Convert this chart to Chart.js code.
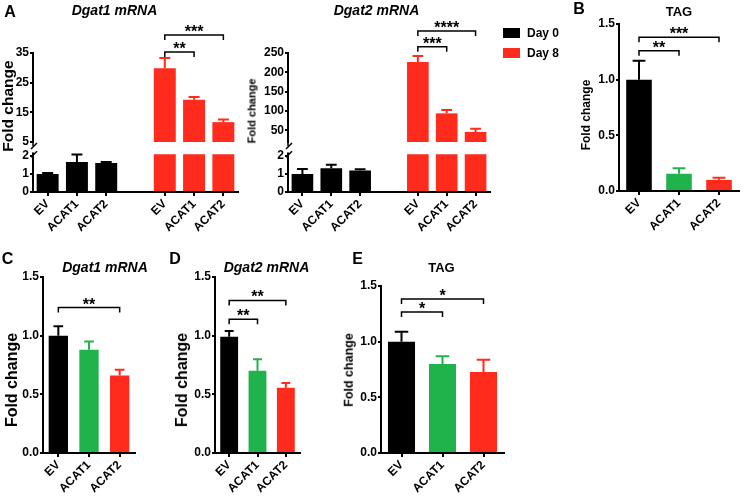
<!DOCTYPE html>
<html>
<head>
<meta charset="utf-8">
<script src="https://cdn.jsdelivr.net/npm/chart.js@4.4.1/dist/chart.umd.min.js"></script>
<style>
  body { margin: 0; width: 745px; height: 499px; background: #fff; position: relative; overflow: hidden;
         font-family: "Liberation Sans", Arial, sans-serif; }
  canvas { position: absolute; }
  .t { position: absolute; transform: translate(-50%, -50%); white-space: nowrap; font-weight: bold; color: #000; line-height: 1; }
  .v { transform: translate(-50%, -50%) rotate(-90deg); }
  .it { font-style: italic; }
  .sw { position: absolute; width: 17px; height: 10px; }
</style>
</head>
<body>
<script>
// ---- data ----
const groups = ['EV', 'ACAT1', 'ACAT2'];
const seriesNames = ['Day 0', 'Day 8'];

const dgat1Day0 = [1.0, 1.67, 1.61];
const dgat1Day0Err = [0.06, 0.41, 0.06];
const dgat1Day8 = [29.9, 19.2, 11.7];
const dgat1Day8Err = [3.4, 1.0, 0.9];

const dgat2Day0 = [1.0, 1.32, 1.2];
const dgat2Day0Err = [0.28, 0.2, 0.07];
const dgat2Day8 = [227, 94, 46];
const dgat2Day8Err = [15, 9, 8];

const tagB = [1.0, 0.155, 0.1];
const tagBErr = [0.17, 0.05, 0.02];
const dgat1C = [1.0, 0.88, 0.66];
const dgat1CErr = [0.08, 0.07, 0.05];
const dgat2D = [0.99, 0.70, 0.556];
const dgat2DErr = [0.05, 0.10, 0.04];
const tagE = [1.0, 0.80, 0.727];
const tagEErr = [0.09, 0.07, 0.11];

// significance: [from group, to group, height (y units), label]
const dgat1Sig = [[0, 1, 35.3, '**'], [0, 2, 41.1, '***']];
const dgat2Sig = [[0, 1, 266, '***'], [0, 2, 307, '****']];
const tagBSig = [[0, 1, 1.26, '**'], [0, 2, 1.38, '***']];
const dgat1CSig = [[0, 2, 1.24, '**']];
const dgat2DSig = [[0, 1, 1.14, '**'], [0, 2, 1.30, '**']];
const tagESig = [[0, 1, 1.267, '*'], [0, 2, 1.384, '*']];

const BLACK = '#000000', RED = '#ff2b1c', GREEN = '#20b24b';
const seriesColors = [BLACK, RED];
const FONT = '"Liberation Sans", Arial, sans-serif';

// ---- plugins ----
const errorBars = {
  id: 'errorBars',
  afterDatasetsDraw(chart) {
    const { ctx, chartArea: a } = chart;
    ctx.save();
    ctx.beginPath();
    ctx.rect(a.left, a.top - 4, a.right - a.left, a.bottom - a.top + 4);
    ctx.clip();
    chart.data.datasets.forEach((ds, di) => {
      chart.getDatasetMeta(di).data.forEach((bar, i) => {
        const v = ds.data[i], e = ds.errors[i];
        if (v == null || e == null) return;
        const y1 = chart.scales.y.getPixelForValue(v + e);
        const w = bar.width / 4;
        ctx.strokeStyle = ds.backgroundColor[i];
        ctx.lineWidth = 2;
        ctx.beginPath();
        ctx.moveTo(bar.x, bar.y); ctx.lineTo(bar.x, y1);
        ctx.moveTo(bar.x - w, y1); ctx.lineTo(bar.x + w, y1);
        ctx.stroke();
      });
    });
    ctx.restore();
  }
};

const sigBrackets = {
  id: 'sigBrackets',
  afterDraw(chart, args, opts) {
    const items = opts.items || [];
    const { ctx } = chart, xs = chart.scales.x, ys = chart.scales.y;
    ctx.save();
    ctx.strokeStyle = '#000'; ctx.fillStyle = '#000'; ctx.lineWidth = 1.5;
    ctx.font = 'bold 16px ' + FONT;
    ctx.textAlign = 'center'; ctx.textBaseline = 'alphabetic';
    items.forEach(([a, b, v, txt]) => {
      const x1 = xs.getPixelForValue(a), x2 = xs.getPixelForValue(b), y = ys.getPixelForValue(v);
      ctx.beginPath();
      ctx.moveTo(x1, y + 5); ctx.lineTo(x1, y); ctx.lineTo(x2, y); ctx.lineTo(x2, y + 5);
      ctx.stroke();
      ctx.fillText(txt, (x1 + x2) / 2, y + 2);
    });
    ctx.restore();
  }
};

const axisBreak = {
  id: 'axisBreak',
  afterDraw(chart, args, opts) {
    if (!opts.side) return;
    const { ctx, chartArea: a } = chart;
    const x = a.left;
    ctx.save();
    ctx.strokeStyle = '#000'; ctx.lineWidth = 1.5;
    ctx.beginPath();
    if (opts.side === 'bottom') {
      ctx.moveTo(x, a.bottom); ctx.lineTo(x, a.bottom + 4);
      ctx.moveTo(x - 2, a.bottom + 7); ctx.lineTo(x + 4, a.bottom + 1);
    } else {
      ctx.moveTo(x, a.top); ctx.lineTo(x, a.top - 2);
      ctx.moveTo(x - 2, a.top + 3); ctx.lineTo(x + 4, a.top - 3);
    }
    ctx.stroke();
    ctx.restore();
  }
};

// ---- helpers ----
function addText(txt, x, y, size, cls) {
  const d = document.createElement('div');
  d.className = 't' + (cls ? ' ' + cls : '');
  d.textContent = txt;
  d.style.left = x + 'px'; d.style.top = y + 'px'; d.style.fontSize = size + 'px';
  document.body.appendChild(d);
}

// box: chart area in page pixels
function barChart(box, labels, values, colors, errors, y, opt) {
  const wy = 45, pr = 6;
  const showX = !!opt.showX;
  const xh = showX ? 48 : 0;
  const left = box.L - wy;
  const top = Math.floor(box.T - (opt.pt || 20));
  const pt = box.T - top;
  const width = Math.ceil(box.R + pr - left);
  const height = Math.ceil(box.B + xh + (showX ? 0 : 10) - top);
  const pb = height - xh - (box.B - top);
  const cv = document.createElement('canvas');
  cv.width = width; cv.height = height;
  cv.style.left = left + 'px'; cv.style.top = top + 'px';
  cv.style.width = width + 'px'; cv.style.height = height + 'px';
  document.body.appendChild(cv);
  const tickFont = { family: FONT, weight: 'bold', size: 12 };
  return new Chart(cv, {
    type: 'bar',
    data: {
      labels: labels,
      datasets: [{ data: values, backgroundColor: colors, errors: errors,
                   barPercentage: opt.bar, categoryPercentage: 1, borderWidth: 0 }]
    },
    options: {
      responsive: false,
      animation: false,
      layout: { padding: { top: pt, right: box.R + pr - left - width + (width - (box.R - left)), bottom: pb, left: 0 } },
      plugins: {
        legend: { display: false },
        tooltip: { enabled: false },
        sigBrackets: { items: opt.sig || [] },
        axisBreak: { side: opt.breakSide || null }
      },
      scales: {
        x: {
          display: showX,
          offset: true,
          grid: { display: true, offset: false, drawOnChartArea: false, tickLength: 4, lineWidth: 2,
                  color: c => labels[c.index] ? '#000' : 'rgba(0,0,0,0)' },
          border: { display: true, color: '#000', width: 2 },
          ticks: { color: '#000', font: tickFont, minRotation: 45, maxRotation: 45, autoSkip: false, padding: 1 },
          afterFit(s) { s.height = xh; }
        },
        y: {
          min: y.min, max: y.max,
          grid: { drawOnChartArea: false, tickLength: 3, lineWidth: 2, color: '#000' },
          border: { color: '#000', width: 2 },
          ticks: { color: '#000', font: tickFont, padding: 1, stepSize: y.step, includeBounds: false,
                   callback: v => v.toFixed(y.dec) },
          afterFit(s) { s.width = wy; }
        }
      }
    },
    plugins: [errorBars, sigBrackets, axisBreak]
  });
}

function twoGroup(day0, day8) { return [...day0, null, ...day8]; }
const twoLabels = [...groups, '', ...groups];
const twoColors = [BLACK, BLACK, BLACK, 'rgba(0,0,0,0)', RED, RED, RED];
const triColors = [BLACK, GREEN, RED];
const shift = (sig, k) => sig.map(([a, b, v, t]) => [a + k, b + k, v, t]);

// ---- panel A: Dgat1 (broken axis) ----
const a1v = twoGroup(dgat1Day0, dgat1Day8), a1e = twoGroup(dgat1Day0Err, dgat1Day8Err);
barChart({ L: 33, R: 238, T: 53, B: 142 }, twoLabels, a1v, twoColors, a1e,
  { min: 5, max: 35, step: 10, dec: 0 }, { bar: 0.75, pt: 40, sig: shift(dgat1Sig, 4), breakSide: 'bottom' });
barChart({ L: 33, R: 238, T: 154.2, B: 192 }, twoLabels, a1v, twoColors, a1e,
  { min: 0, max: 2.1, step: 1, dec: 0 }, { bar: 0.75, pt: 9, showX: true, breakSide: 'top' });

// ---- panel A: Dgat2 (broken axis) ----
const a2v = twoGroup(dgat2Day0, dgat2Day8), a2e = twoGroup(dgat2Day0Err, dgat2Day8Err);
barChart({ L: 288, R: 490, T: 53, B: 142 }, twoLabels, a2v, twoColors, a2e,
  { min: 20, max: 250, step: 50, dec: 0 }, { bar: 0.75, pt: 40, sig: shift(dgat2Sig, 4), breakSide: 'bottom' });
barChart({ L: 288, R: 490, T: 154.2, B: 192 }, twoLabels, a2v, twoColors, a2e,
  { min: 0, max: 2.1, step: 1, dec: 0 }, { bar: 0.75, pt: 9, showX: true, breakSide: 'top' });

// ---- panels B to E ----
const unitY = { min: 0, max: 1.5, step: 0.5, dec: 1 };
barChart({ L: 619, R: 739, T: 24, B: 191 }, groups, tagB, triColors, tagBErr, unitY, { bar: 0.64, pt: 20, showX: true, sig: tagBSig });
barChart({ L: 43, R: 135, T: 277, B: 453 }, groups, dgat1C, triColors, dgat1CErr, unitY, { bar: 0.63, pt: 20, showX: true, sig: dgat1CSig });
barChart({ L: 215, R: 300, T: 277, B: 453 }, groups, dgat2D, triColors, dgat2DErr, unitY, { bar: 0.63, pt: 20, showX: true, sig: dgat2DSig });
barChart({ L: 381, R: 504, T: 286, B: 453 }, groups, tagE, triColors, tagEErr, unitY, { bar: 0.66, pt: 20, showX: true, sig: tagESig });

// ---- text ----
addText('A', 10, 12, 16);
addText('B', 579, 9, 16);
addText('C', 7.5, 259, 16);
addText('D', 175, 259, 16);
addText('E', 357.5, 259, 16);

addText('Dgat1 mRNA', 114.5, 10, 14, 'it');
addText('Dgat2 mRNA', 376.5, 10, 14, 'it');
addText('TAG', 679, 11, 13);
addText('Dgat1 mRNA', 105, 266.5, 14, 'it');
addText('Dgat2 mRNA', 266.5, 266.5, 14, 'it');
addText('TAG', 441.5, 267, 13);

addText('Fold change', 8, 106, 15.5, 'v');
addText('Fold change', 252, 111, 11, 'v');
addText('Fold change', 586, 115, 12, 'v');
addText('Fold change', 12, 380, 16, 'v');
addText('Fold change', 182, 380, 16, 'v');
addText('Fold change', 349, 370, 12.5, 'v');

// legend
seriesNames.forEach((name, i) => {
  const sw = document.createElement('div');
  sw.className = 'sw';
  sw.style.left = '503px'; sw.style.top = (28 + i * 20) + 'px';
  sw.style.background = seriesColors[i];
  document.body.appendChild(sw);
  const d = document.createElement('div');
  d.className = 't';
  d.style.transform = 'translate(0, -50%)';
  d.style.left = '527px'; d.style.top = (33 + i * 20) + 'px'; d.style.fontSize = '12px';
  d.textContent = name;
  document.body.appendChild(d);
});
</script>
</body>
</html>
